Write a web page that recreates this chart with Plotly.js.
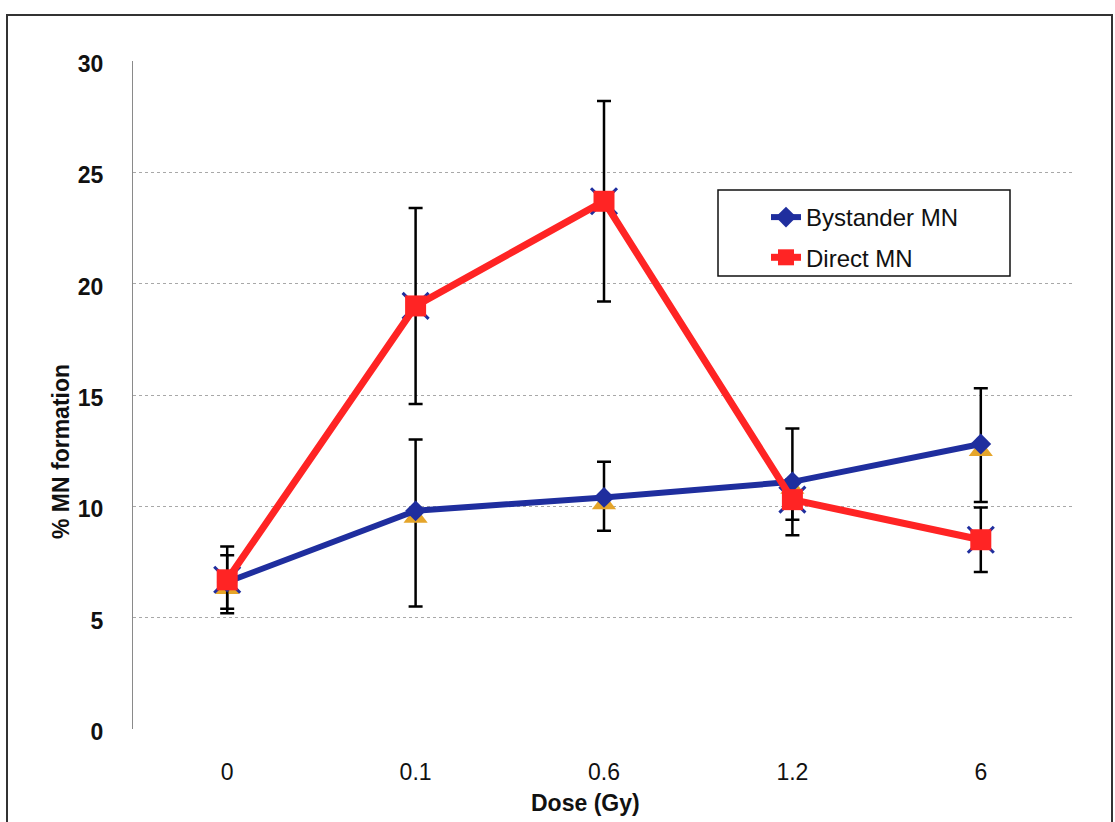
<!DOCTYPE html>
<html>
<head>
<meta charset="utf-8">
<script src="https://cdn.plot.ly/plotly-3.0.1.min.js"></script>
<style>
  html, body { margin: 0; padding: 0; background: #ffffff; }
  #chart { width: 1115px; height: 822px; }
</style>
</head>
<body>
<div id="chart"></div>
<script>
// Categories (dose, Gy)
const doses = ['0', '0.1', '0.6', '1.2', '6'];

// Series values (% MN formation)
const bystanderMN = [6.6, 9.8, 10.4, 11.1, 12.8];
const directMN = [6.7, 19.0, 23.7, 10.3, 8.5];

// Hidden companion series carrying the error bars (drawn under the main markers)
const bystanderErrSeries = [6.3, 9.5, 10.1, 10.8, 12.5];
const bystanderErrPlus = [1.5, 3.5, 1.9, 2.7, 2.8];
const bystanderErrMinus = [0.9, 4.0, 1.2, 2.1, 2.3];
const directErrSeries = [6.7, 19.0, 23.7, 10.3, 8.5];
const directErr = [1.5, 4.4, 4.5, 0.9, 1.45];

// Y tick values
const yTicks = [0, 5, 10, 15, 20, 25, 30];

const FONT = 'Liberation Sans, Arial, sans-serif';
const NAVY = '#1f2e9e';
const RED = '#ff2424';
const ORANGE = '#e5a52a';

const traces = [
  {
    x: doses, y: bystanderErrSeries, type: 'scatter', mode: 'markers',
    showlegend: false, hoverinfo: 'skip',
    marker: { symbol: 'triangle-up', size: 21, color: ORANGE },
    error_y: { type: 'data', symmetric: false, array: bystanderErrPlus, arrayminus: bystanderErrMinus,
               color: '#000000', thickness: 2.5, width: 7 }
  },
  {
    x: doses, y: directErrSeries, type: 'scatter', mode: 'markers',
    showlegend: false, hoverinfo: 'skip',
    marker: { symbol: 'x-thin', size: 26, color: NAVY, line: { color: NAVY, width: 3 } },
    error_y: { type: 'data', array: directErr, color: '#000000', thickness: 2.5, width: 7 }
  },
  {
    x: doses, y: bystanderMN, type: 'scatter', mode: 'lines+markers',
    name: 'Bystander MN', legendgroup: 'a',
    line: { color: NAVY, width: 6 },
    marker: { symbol: 'diamond', size: 16, color: NAVY }
  },
  {
    x: doses, y: directMN, type: 'scatter', mode: 'lines+markers',
    name: 'Direct MN', legendgroup: 'b',
    line: { color: RED, width: 7 },
    marker: { symbol: 'square', size: 21, color: RED }
  }
];

const L = 133, R = 1075, T = 61, B = 729, W = 1115, H = 822;
const px = v => (v - L) / (R - L);
const py = v => (B - v) / (B - T);

const layout = {
  width: W, height: H,
  margin: { l: L, r: W - R, t: T, b: H - B, pad: 0 },
  paper_bgcolor: '#ffffff', plot_bgcolor: '#ffffff',
  font: { family: FONT, color: '#111111', size: 22 },
  showlegend: true,
  legend: {
    x: px(766), y: py(195), xanchor: 'left', yanchor: 'top',
    bgcolor: 'rgba(0,0,0,0)', borderwidth: 0,
    font: { family: FONT, size: 24, color: '#111111' },
    tracegroupgap: 6, itemwidth: 30
  },
  xaxis: {
    type: 'category', categoryorder: 'array', categoryarray: doses,
    range: [-0.5, 4.5], showgrid: false, zeroline: false, showline: false,
    ticks: '', ticklabelstandoff: 27,
    tickfont: { family: FONT, size: 23, color: '#111111' }
  },
  yaxis: {
    range: [0, 30], tickvals: yTicks, ticktext: yTicks.map(String),
    showgrid: true, gridcolor: '#a8a8a8', griddash: 'dot', gridwidth: 1,
    zeroline: false, showline: true, linecolor: '#8a8a8a', linewidth: 1,
    ticks: '', ticklabelstandoff: 24, ticklabelshift: 3,
    tickfont: { family: FONT, size: 23, color: '#111111', weight: 'bold' }
  },
  shapes: [
    // outer chart frame
    { type: 'rect', xref: 'paper', yref: 'paper', x0: px(7), x1: px(1112), y0: py(840), y1: py(15),
      line: { color: '#333333', width: 2 }, fillcolor: 'rgba(0,0,0,0)', layer: 'above' },
    // legend box
    { type: 'rect', xref: 'paper', yref: 'paper', x0: px(718), x1: px(1010), y0: py(276), y1: py(190),
      line: { color: '#111111', width: 1.5 }, fillcolor: 'rgba(0,0,0,0)', layer: 'above' }
  ],
  annotations: [
    { text: 'Dose (Gy)', xref: 'paper', yref: 'paper', x: px(585), y: py(803),
      xanchor: 'center', yanchor: 'middle', showarrow: false,
      font: { family: FONT, size: 23, color: '#111111', weight: 'bold' } },
    { text: '% MN formation', xref: 'paper', yref: 'paper', x: px(61), y: py(452),
      xanchor: 'center', yanchor: 'middle', showarrow: false, textangle: -90,
      font: { family: FONT, size: 23, color: '#111111', weight: 'bold' } }
  ]
};

Plotly.newPlot('chart', traces, layout, { displayModeBar: false, staticPlot: true });
</script>
</body>
</html>
